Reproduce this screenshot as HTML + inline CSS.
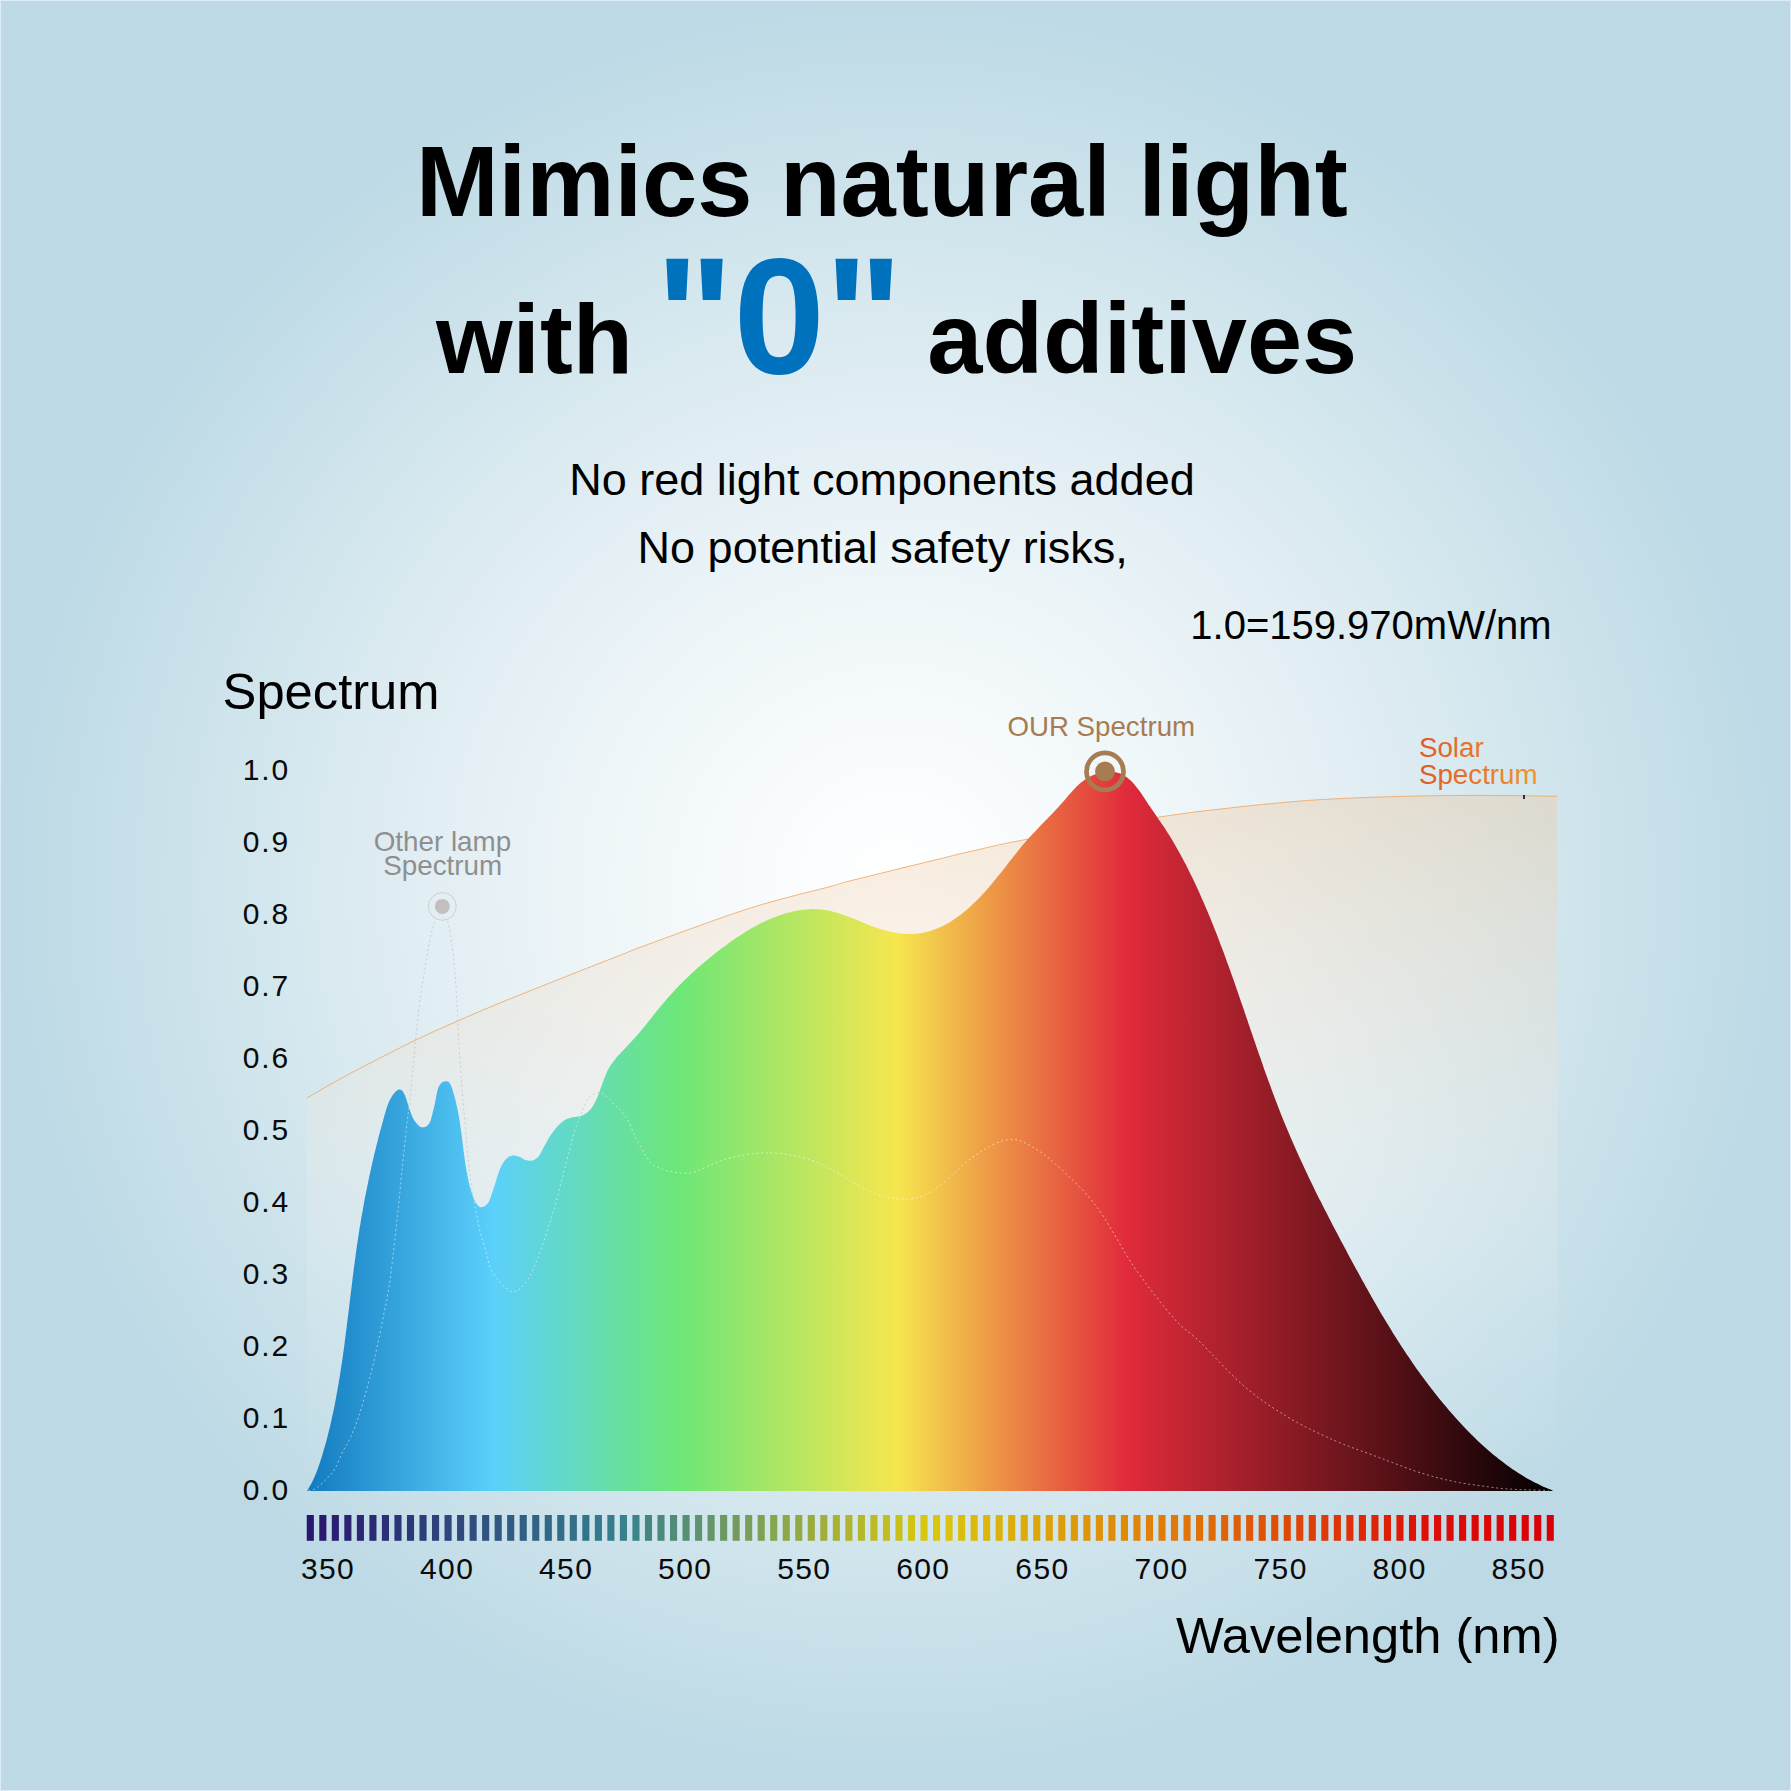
<!DOCTYPE html>
<html><head><meta charset="utf-8"><title>Spectrum</title>
<style>
html,body{margin:0;padding:0;background:#bcd9e5;}
body{width:1791px;height:1791px;overflow:hidden;font-family:"Liberation Sans",sans-serif;}
svg{display:block;}
text{font-family:"Liberation Sans",sans-serif;}
.t1{font-weight:bold;fill:#000;}
.big{font-weight:bold;font-size:164.5px;fill:#0071bc;}
.sub{font-size:45px;fill:#000;}
.ax{font-size:30px;fill:#0a0a0a;}
</style></head>
<body>
<svg width="1791" height="1791" viewBox="0 0 1791 1791">
<defs>
<radialGradient id="bg" gradientUnits="userSpaceOnUse" cx="895.5" cy="888" r="897"><stop offset="0.00" stop-color="#ffffff"/><stop offset="0.10" stop-color="#fbfdfe"/><stop offset="0.20" stop-color="#f6fafc"/><stop offset="0.30" stop-color="#f0f7f9"/><stop offset="0.40" stop-color="#eaf3f7"/><stop offset="0.50" stop-color="#e3eff4"/><stop offset="0.60" stop-color="#dcebf1"/><stop offset="0.70" stop-color="#d4e7ee"/><stop offset="0.80" stop-color="#cce2eb"/><stop offset="0.90" stop-color="#c4dee8"/><stop offset="1.00" stop-color="#bcd9e5"/></radialGradient>
<linearGradient id="sp" gradientUnits="userSpaceOnUse" x1="306.7" y1="0" x2="1553.7" y2="0">
<stop offset="0" stop-color="#127abf"/>
<stop offset="0.1493" stop-color="#5bd0fb"/>
<stop offset="0.2992" stop-color="#6de777"/>
<stop offset="0.4731" stop-color="#f6e64e"/>
<stop offset="0.6566" stop-color="#e12b3b"/>
<stop offset="1" stop-color="#000000"/>
</linearGradient>
<linearGradient id="sol" gradientUnits="userSpaceOnUse" x1="0" y1="796" x2="0" y2="1491">
<stop offset="0" stop-color="#eec8a0" stop-opacity="0.40"/>
<stop offset="0.4" stop-color="#f4e4d4" stop-opacity="0.27"/>
<stop offset="0.75" stop-color="#ffffff" stop-opacity="0.07"/>
<stop offset="1" stop-color="#ffffff" stop-opacity="0"/>
</linearGradient>
<linearGradient id="solt" gradientUnits="userSpaceOnUse" x1="1420" y1="0" x2="1536" y2="0">
<stop offset="0" stop-color="#e05a28"/>
<stop offset="1" stop-color="#f0942c"/>
</linearGradient>
<clipPath id="spc"><path d="M307.1 1491.0 C307.6 1490.1 309.2 1487.4 310.2 1485.6 C311.2 1483.8 312.1 1482.0 313.0 1480.2 C313.8 1478.4 314.6 1476.6 315.4 1474.7 C316.2 1472.9 316.9 1471.1 317.6 1469.2 C318.3 1467.4 319.0 1465.5 319.6 1463.6 C320.2 1461.8 320.8 1459.9 321.4 1458.0 C322.0 1456.1 322.6 1454.2 323.1 1452.3 C323.7 1450.4 324.2 1448.5 324.8 1446.6 C325.3 1444.7 325.8 1442.8 326.4 1440.9 C326.9 1439.0 327.4 1437.1 327.9 1435.1 C328.3 1433.2 328.8 1431.3 329.3 1429.3 C329.8 1427.4 330.2 1425.4 330.7 1423.5 C331.1 1421.5 331.6 1419.6 332.0 1417.6 C332.4 1415.7 332.8 1413.7 333.3 1411.7 C333.7 1409.8 334.1 1407.8 334.5 1405.9 C334.9 1403.9 335.2 1401.9 335.6 1399.9 C336.0 1398.0 336.4 1396.0 336.7 1394.0 C337.1 1392.0 337.4 1390.1 337.8 1388.1 C338.1 1386.1 338.5 1384.1 338.8 1382.1 C339.1 1380.1 339.5 1378.2 339.8 1376.2 C340.1 1374.2 340.4 1372.2 340.7 1370.2 C341.0 1368.2 341.3 1366.3 341.6 1364.3 C341.9 1362.3 342.2 1360.3 342.5 1358.3 C342.8 1356.3 343.1 1354.4 343.3 1352.4 C343.6 1350.4 343.9 1348.4 344.2 1346.4 C344.4 1344.4 344.7 1342.4 344.9 1340.5 C345.2 1338.5 345.5 1336.5 345.7 1334.5 C346.0 1332.5 346.2 1330.5 346.5 1328.6 C346.7 1326.6 347.0 1324.6 347.2 1322.6 C347.5 1320.6 347.7 1318.6 347.9 1316.6 C348.2 1314.7 348.4 1312.7 348.7 1310.7 C348.9 1308.7 349.2 1306.7 349.4 1304.7 C349.6 1302.8 349.9 1300.8 350.1 1298.8 C350.3 1296.8 350.6 1294.8 350.8 1292.8 C351.1 1290.9 351.3 1288.9 351.6 1286.9 C351.8 1284.9 352.0 1282.9 352.3 1281.0 C352.5 1279.0 352.8 1277.0 353.0 1275.0 C353.3 1273.0 353.5 1271.1 353.8 1269.1 C354.0 1267.1 354.3 1265.1 354.6 1263.1 C354.8 1261.2 355.1 1259.2 355.4 1257.2 C355.6 1255.2 355.9 1253.3 356.2 1251.3 C356.5 1249.3 356.7 1247.3 357.0 1245.3 C357.3 1243.4 357.6 1241.4 357.9 1239.4 C358.2 1237.5 358.5 1235.5 358.8 1233.5 C359.1 1231.5 359.4 1229.6 359.7 1227.6 C360.1 1225.6 360.4 1223.6 360.7 1221.7 C361.0 1219.7 361.4 1217.7 361.7 1215.8 C362.1 1213.8 362.4 1211.8 362.8 1209.9 C363.1 1207.9 363.5 1205.9 363.8 1204.0 C364.2 1202.0 364.6 1200.0 364.9 1198.1 C365.3 1196.1 365.7 1194.1 366.1 1192.2 C366.5 1190.2 366.9 1188.3 367.3 1186.3 C367.6 1184.3 368.1 1182.4 368.5 1180.4 C368.9 1178.5 369.3 1176.5 369.7 1174.5 C370.1 1172.6 370.6 1170.6 371.0 1168.7 C371.4 1166.7 371.9 1164.8 372.3 1162.8 C372.8 1160.8 373.2 1158.9 373.7 1156.9 C374.1 1155.0 374.6 1153.0 375.1 1151.1 C375.6 1149.1 376.0 1147.2 376.5 1145.2 C377.0 1143.3 377.5 1141.3 378.0 1139.4 C378.5 1137.4 379.0 1135.5 379.5 1133.6 C380.0 1131.6 380.5 1129.7 381.1 1127.7 C381.6 1125.8 382.1 1123.8 382.7 1121.9 C383.2 1120.0 383.8 1118.0 384.3 1116.1 C384.9 1114.1 385.4 1112.2 386.0 1110.3 C386.6 1108.3 387.2 1106.4 387.9 1104.6 C388.6 1102.7 389.4 1100.9 390.3 1099.1 C391.2 1097.4 392.3 1095.7 393.5 1094.1 C394.7 1092.6 396.3 1090.5 397.7 1089.9 C399.1 1089.2 400.6 1089.4 401.8 1090.2 C403.0 1091.1 403.9 1093.2 404.8 1095.0 C405.7 1096.8 406.3 1099.1 407.0 1101.2 C407.7 1103.3 408.3 1105.5 409.0 1107.6 C409.6 1109.7 410.3 1111.7 411.0 1113.6 C411.7 1115.5 412.5 1117.3 413.4 1119.0 C414.4 1120.6 415.4 1122.2 416.6 1123.6 C417.8 1125.0 419.2 1126.6 420.8 1127.1 C422.4 1127.6 424.6 1127.5 426.2 1126.6 C427.7 1125.7 429.1 1123.6 430.1 1121.8 C431.1 1119.9 431.5 1117.3 432.1 1115.3 C432.6 1113.2 433.0 1111.3 433.5 1109.5 C433.9 1107.6 434.4 1106.0 434.8 1104.1 C435.2 1102.2 435.5 1100.3 435.9 1098.2 C436.3 1096.1 436.6 1093.8 437.2 1091.7 C437.7 1089.6 438.3 1087.4 439.3 1085.8 C440.3 1084.1 441.7 1082.5 443.1 1081.8 C444.5 1081.1 446.5 1080.9 447.8 1081.5 C449.1 1082.1 450.1 1083.7 450.9 1085.4 C451.8 1087.0 452.4 1089.3 453.1 1091.4 C453.7 1093.5 454.3 1095.6 454.8 1097.7 C455.4 1099.8 455.9 1101.8 456.3 1103.9 C456.8 1105.9 457.2 1107.9 457.6 1109.9 C458.0 1111.9 458.4 1113.9 458.8 1115.9 C459.1 1117.9 459.4 1119.8 459.8 1121.8 C460.1 1123.8 460.4 1125.7 460.6 1127.7 C460.9 1129.6 461.2 1131.5 461.4 1133.5 C461.7 1135.4 461.9 1137.3 462.2 1139.3 C462.4 1141.2 462.6 1143.1 462.9 1145.1 C463.1 1147.0 463.4 1149.0 463.6 1150.9 C463.9 1152.9 464.1 1154.9 464.4 1156.8 C464.7 1158.8 464.9 1160.8 465.2 1162.8 C465.5 1164.8 465.8 1166.8 466.2 1168.8 C466.5 1170.8 466.9 1172.8 467.3 1174.8 C467.6 1176.8 468.0 1178.8 468.5 1180.8 C468.9 1182.8 469.4 1184.8 469.9 1186.7 C470.4 1188.7 471.0 1190.6 471.6 1192.6 C472.2 1194.5 472.8 1196.4 473.6 1198.2 C474.4 1200.1 475.2 1202.1 476.4 1203.6 C477.5 1205.1 478.8 1207.0 480.4 1207.3 C481.9 1207.6 484.1 1206.7 485.7 1205.6 C487.2 1204.4 488.5 1202.3 489.4 1200.5 C490.4 1198.6 490.9 1196.5 491.5 1194.6 C492.2 1192.6 492.8 1190.8 493.4 1188.9 C494.0 1187.0 494.7 1185.2 495.3 1183.3 C495.9 1181.5 496.4 1179.5 497.0 1177.6 C497.6 1175.7 498.2 1173.8 498.9 1171.9 C499.6 1170.0 500.3 1168.1 501.2 1166.3 C502.1 1164.5 503.1 1162.7 504.3 1161.1 C505.5 1159.6 506.9 1157.9 508.6 1156.9 C510.2 1155.9 512.2 1155.4 514.2 1155.4 C516.1 1155.4 518.2 1156.2 520.0 1156.9 C521.9 1157.7 523.6 1159.3 525.5 1160.0 C527.3 1160.6 529.4 1160.9 531.2 1160.7 C533.0 1160.4 534.9 1159.6 536.4 1158.5 C537.9 1157.3 539.1 1155.6 540.2 1153.9 C541.3 1152.2 542.2 1150.1 543.2 1148.3 C544.1 1146.5 545.1 1144.7 546.1 1142.9 C547.1 1141.2 548.0 1139.5 549.1 1137.8 C550.1 1136.1 551.2 1134.4 552.3 1132.8 C553.5 1131.2 554.7 1129.6 556.0 1128.0 C557.3 1126.5 558.6 1125.0 560.1 1123.7 C561.5 1122.4 563.1 1121.1 564.8 1120.1 C566.5 1119.2 568.3 1118.4 570.2 1117.8 C572.2 1117.3 574.4 1117.1 576.4 1116.7 C578.4 1116.3 580.5 1116.1 582.3 1115.4 C584.1 1114.8 585.7 1113.8 587.2 1112.6 C588.7 1111.5 590.0 1110.0 591.2 1108.5 C592.4 1107.0 593.4 1105.2 594.4 1103.4 C595.4 1101.6 596.3 1099.7 597.1 1097.7 C597.9 1095.8 598.7 1093.8 599.4 1091.9 C600.1 1090.0 600.8 1088.0 601.5 1086.1 C602.2 1084.2 602.8 1082.3 603.5 1080.4 C604.2 1078.6 604.9 1076.7 605.7 1074.9 C606.5 1073.1 607.3 1071.3 608.2 1069.6 C609.1 1067.9 610.1 1066.2 611.2 1064.6 C612.2 1063.0 613.4 1061.4 614.6 1059.9 C615.8 1058.3 617.1 1056.8 618.5 1055.3 C619.8 1053.8 621.2 1052.4 622.6 1050.9 C624.0 1049.4 625.4 1048.0 626.8 1046.5 C628.2 1045.1 629.6 1043.6 631.0 1042.1 C632.4 1040.6 633.8 1039.1 635.2 1037.6 C636.5 1036.1 637.8 1034.5 639.2 1033.0 C640.5 1031.4 641.8 1029.8 643.1 1028.3 C644.3 1026.7 645.6 1025.1 646.9 1023.5 C648.2 1021.9 649.4 1020.3 650.7 1018.8 C651.9 1017.2 653.2 1015.6 654.4 1014.0 C655.7 1012.4 656.9 1010.9 658.2 1009.3 C659.4 1007.8 660.7 1006.2 662.0 1004.7 C663.2 1003.2 664.5 1001.7 665.8 1000.2 C667.1 998.7 668.4 997.2 669.7 995.8 C671.0 994.3 672.3 992.9 673.6 991.4 C674.9 990.0 676.2 988.6 677.6 987.2 C678.9 985.8 680.3 984.4 681.7 983.0 C683.0 981.7 684.4 980.3 685.8 979.0 C687.2 977.6 688.6 976.3 690.0 974.9 C691.4 973.6 692.9 972.3 694.3 971.0 C695.7 969.7 697.2 968.4 698.7 967.1 C700.1 965.8 701.6 964.5 703.1 963.2 C704.6 961.9 706.2 960.7 707.7 959.4 C709.2 958.1 710.8 956.9 712.4 955.6 C713.9 954.3 715.5 953.1 717.1 951.8 C718.7 950.6 720.3 949.4 722.0 948.1 C723.6 946.9 725.3 945.7 727.0 944.4 C728.6 943.2 730.3 942.0 732.0 940.8 C733.7 939.6 735.4 938.5 737.2 937.3 C738.9 936.2 740.6 935.0 742.4 933.9 C744.2 932.8 745.9 931.7 747.7 930.6 C749.5 929.6 751.3 928.5 753.1 927.5 C754.9 926.5 756.7 925.5 758.5 924.6 C760.3 923.6 762.2 922.7 764.0 921.8 C765.9 920.9 767.7 920.1 769.6 919.3 C771.4 918.5 773.3 917.7 775.1 917.0 C777.0 916.2 778.9 915.5 780.8 914.9 C782.7 914.3 784.5 913.7 786.4 913.1 C788.3 912.6 790.2 912.1 792.1 911.7 C794.0 911.2 795.9 910.8 797.8 910.5 C799.7 910.2 801.6 909.9 803.5 909.7 C805.5 909.5 807.4 909.3 809.3 909.2 C811.2 909.1 813.1 909.1 815.0 909.2 C816.9 909.2 818.8 909.3 820.7 909.5 C822.6 909.7 824.5 909.9 826.4 910.2 C828.3 910.5 830.2 911.0 832.1 911.4 C834.0 911.9 835.9 912.4 837.8 913.0 C839.7 913.6 841.6 914.2 843.5 914.9 C845.4 915.5 847.3 916.3 849.2 917.0 C851.1 917.7 853.0 918.5 854.9 919.3 C856.8 920.0 858.7 920.8 860.6 921.6 C862.5 922.4 864.4 923.2 866.3 923.9 C868.2 924.7 870.1 925.4 872.0 926.2 C873.9 926.9 875.9 927.6 877.8 928.2 C879.7 928.9 881.7 929.5 883.6 930.1 C885.6 930.6 887.5 931.1 889.5 931.6 C891.4 932.0 893.4 932.4 895.4 932.7 C897.3 933.1 899.3 933.3 901.3 933.5 C903.2 933.7 905.2 933.8 907.1 933.9 C909.1 933.9 911.1 933.9 913.0 933.9 C915.0 933.8 916.9 933.6 918.8 933.4 C920.7 933.1 922.7 932.8 924.6 932.4 C926.4 932.0 928.3 931.6 930.2 931.0 C932.1 930.5 933.9 929.8 935.7 929.1 C937.6 928.4 939.4 927.6 941.2 926.8 C943.0 925.9 944.7 925.0 946.5 924.0 C948.2 923.1 949.9 922.0 951.7 920.9 C953.4 919.9 955.0 918.7 956.7 917.5 C958.4 916.4 960.0 915.1 961.6 913.9 C963.2 912.6 964.8 911.3 966.4 910.0 C967.9 908.7 969.4 907.3 970.9 905.9 C972.4 904.5 973.9 903.1 975.4 901.7 C976.8 900.3 978.2 898.8 979.6 897.4 C981.0 895.9 982.4 894.4 983.8 893.0 C985.1 891.5 986.5 890.0 987.8 888.5 C989.1 886.9 990.4 885.4 991.7 883.9 C993.0 882.4 994.3 880.8 995.5 879.3 C996.8 877.7 998.0 876.2 999.3 874.6 C1000.5 873.1 1001.8 871.5 1003.0 869.9 C1004.2 868.4 1005.5 866.8 1006.7 865.2 C1007.9 863.7 1009.1 862.1 1010.4 860.6 C1011.6 859.0 1012.8 857.4 1014.0 855.9 C1015.3 854.3 1016.5 852.8 1017.8 851.2 C1019.0 849.7 1020.3 848.2 1021.5 846.6 C1022.8 845.1 1024.1 843.6 1025.4 842.1 C1026.6 840.6 1027.9 839.1 1029.3 837.6 C1030.6 836.2 1031.9 834.7 1033.3 833.3 C1034.6 831.8 1036.0 830.4 1037.4 828.9 C1038.7 827.5 1040.1 826.1 1041.5 824.6 C1042.9 823.2 1044.3 821.8 1045.7 820.3 C1047.1 818.9 1048.5 817.5 1049.9 816.0 C1051.3 814.6 1052.6 813.2 1054.0 811.7 C1055.4 810.2 1056.8 808.8 1058.2 807.3 C1059.5 805.8 1060.9 804.3 1062.2 802.8 C1063.6 801.3 1064.9 799.7 1066.2 798.2 C1067.5 796.6 1068.9 795.1 1070.2 793.5 C1071.5 792.0 1072.9 790.5 1074.3 789.0 C1075.6 787.6 1077.0 786.1 1078.5 784.8 C1080.0 783.4 1081.5 782.1 1083.1 780.9 C1084.6 779.7 1086.3 778.6 1088.0 777.5 C1089.7 776.5 1091.5 775.6 1093.4 774.9 C1095.2 774.1 1097.2 773.4 1099.1 772.9 C1101.1 772.4 1103.1 772.1 1105.1 771.9 C1107.0 771.6 1109.1 771.6 1111.0 771.7 C1113.0 771.8 1114.9 772.1 1116.8 772.5 C1118.6 773.0 1120.5 773.6 1122.2 774.5 C1123.9 775.3 1125.6 776.4 1127.1 777.5 C1128.7 778.7 1130.2 780.1 1131.7 781.5 C1133.1 782.9 1134.5 784.5 1135.8 786.2 C1137.2 787.8 1138.4 789.5 1139.7 791.3 C1140.9 793.0 1142.1 794.8 1143.3 796.6 C1144.5 798.4 1145.7 800.2 1146.9 801.9 C1148.0 803.7 1149.2 805.4 1150.3 807.0 C1151.4 808.7 1152.5 810.3 1153.7 811.9 C1154.8 813.6 1155.9 815.1 1157.0 816.7 C1158.0 818.3 1159.1 819.9 1160.2 821.4 C1161.3 823.0 1162.3 824.6 1163.4 826.1 C1164.4 827.7 1165.5 829.3 1166.5 830.9 C1167.6 832.6 1168.6 834.2 1169.6 835.8 C1170.6 837.5 1171.6 839.1 1172.6 840.8 C1173.6 842.5 1174.6 844.2 1175.6 845.9 C1176.6 847.6 1177.5 849.3 1178.5 851.0 C1179.4 852.7 1180.4 854.4 1181.3 856.2 C1182.3 857.9 1183.2 859.7 1184.1 861.5 C1185.1 863.2 1186.0 865.0 1186.9 866.8 C1187.8 868.6 1188.7 870.4 1189.6 872.2 C1190.5 874.0 1191.4 875.8 1192.3 877.6 C1193.1 879.4 1194.0 881.3 1194.9 883.1 C1195.7 884.9 1196.6 886.8 1197.4 888.6 C1198.3 890.5 1199.1 892.3 1200.0 894.2 C1200.8 896.0 1201.6 897.9 1202.4 899.8 C1203.3 901.6 1204.1 903.5 1204.9 905.4 C1205.7 907.2 1206.5 909.1 1207.3 911.0 C1208.0 912.9 1208.8 914.8 1209.6 916.6 C1210.4 918.5 1211.1 920.4 1211.9 922.3 C1212.7 924.2 1213.4 926.1 1214.2 927.9 C1214.9 929.8 1215.7 931.7 1216.4 933.6 C1217.1 935.5 1217.9 937.4 1218.6 939.2 C1219.3 941.1 1220.0 943.0 1220.7 944.9 C1221.5 946.8 1222.2 948.7 1222.9 950.6 C1223.6 952.4 1224.3 954.3 1225.0 956.2 C1225.7 958.1 1226.3 960.0 1227.0 961.9 C1227.7 963.7 1228.4 965.6 1229.1 967.5 C1229.8 969.4 1230.4 971.3 1231.1 973.2 C1231.8 975.0 1232.4 976.9 1233.1 978.8 C1233.8 980.7 1234.4 982.6 1235.1 984.5 C1235.7 986.3 1236.4 988.2 1237.0 990.1 C1237.7 992.0 1238.3 993.9 1239.0 995.7 C1239.6 997.6 1240.3 999.5 1240.9 1001.4 C1241.6 1003.3 1242.2 1005.1 1242.9 1007.0 C1243.5 1008.9 1244.2 1010.8 1244.8 1012.7 C1245.4 1014.5 1246.1 1016.4 1246.7 1018.3 C1247.4 1020.2 1248.0 1022.1 1248.6 1023.9 C1249.3 1025.8 1249.9 1027.7 1250.5 1029.6 C1251.2 1031.4 1251.8 1033.3 1252.5 1035.2 C1253.1 1037.1 1253.7 1038.9 1254.4 1040.8 C1255.0 1042.7 1255.7 1044.5 1256.3 1046.4 C1257.0 1048.3 1257.6 1050.2 1258.2 1052.0 C1258.9 1053.9 1259.5 1055.8 1260.2 1057.6 C1260.8 1059.5 1261.5 1061.4 1262.2 1063.3 C1262.8 1065.1 1263.5 1067.0 1264.1 1068.9 C1264.8 1070.7 1265.5 1072.6 1266.1 1074.4 C1266.8 1076.3 1267.5 1078.2 1268.1 1080.0 C1268.8 1081.9 1269.5 1083.8 1270.2 1085.6 C1270.8 1087.5 1271.5 1089.3 1272.2 1091.2 C1272.9 1093.1 1273.6 1094.9 1274.3 1096.8 C1275.0 1098.6 1275.7 1100.5 1276.4 1102.3 C1277.1 1104.2 1277.8 1106.1 1278.6 1107.9 C1279.3 1109.8 1280.0 1111.6 1280.7 1113.5 C1281.5 1115.3 1282.2 1117.2 1282.9 1119.0 C1283.7 1120.9 1284.4 1122.7 1285.2 1124.5 C1286.0 1126.4 1286.7 1128.2 1287.5 1130.1 C1288.3 1131.9 1289.0 1133.8 1289.8 1135.6 C1290.6 1137.5 1291.4 1139.3 1292.2 1141.1 C1293.0 1143.0 1293.8 1144.8 1294.6 1146.6 C1295.4 1148.5 1296.2 1150.3 1297.0 1152.1 C1297.9 1154.0 1298.7 1155.8 1299.5 1157.6 C1300.4 1159.5 1301.2 1161.3 1302.1 1163.1 C1302.9 1165.0 1303.8 1166.8 1304.6 1168.6 C1305.5 1170.4 1306.3 1172.3 1307.2 1174.1 C1308.1 1175.9 1308.9 1177.7 1309.8 1179.5 C1310.7 1181.4 1311.6 1183.2 1312.5 1185.0 C1313.4 1186.8 1314.2 1188.6 1315.1 1190.4 C1316.0 1192.2 1316.9 1194.1 1317.8 1195.9 C1318.7 1197.7 1319.6 1199.5 1320.6 1201.3 C1321.5 1203.1 1322.4 1204.9 1323.3 1206.7 C1324.2 1208.5 1325.1 1210.3 1326.1 1212.1 C1327.0 1213.9 1327.9 1215.7 1328.8 1217.5 C1329.8 1219.3 1330.7 1221.1 1331.6 1222.9 C1332.5 1224.7 1333.5 1226.5 1334.4 1228.2 C1335.4 1230.0 1336.3 1231.8 1337.2 1233.6 C1338.2 1235.4 1339.1 1237.2 1340.0 1238.9 C1341.0 1240.7 1341.9 1242.5 1342.9 1244.3 C1343.8 1246.1 1344.8 1247.8 1345.7 1249.6 C1346.6 1251.4 1347.6 1253.2 1348.5 1254.9 C1349.5 1256.7 1350.4 1258.5 1351.4 1260.2 C1352.3 1262.0 1353.3 1263.7 1354.2 1265.5 C1355.2 1267.3 1356.1 1269.0 1357.1 1270.8 C1358.0 1272.5 1359.0 1274.3 1360.0 1276.0 C1360.9 1277.8 1361.9 1279.5 1362.8 1281.3 C1363.8 1283.0 1364.8 1284.8 1365.7 1286.5 C1366.7 1288.2 1367.7 1290.0 1368.7 1291.7 C1369.6 1293.4 1370.6 1295.2 1371.6 1296.9 C1372.6 1298.6 1373.6 1300.3 1374.5 1302.1 C1375.5 1303.8 1376.5 1305.5 1377.5 1307.2 C1378.5 1308.9 1379.5 1310.6 1380.5 1312.4 C1381.5 1314.1 1382.5 1315.8 1383.6 1317.5 C1384.6 1319.2 1385.6 1320.9 1386.6 1322.6 C1387.6 1324.3 1388.7 1325.9 1389.7 1327.6 C1390.7 1329.3 1391.8 1331.0 1392.8 1332.7 C1393.9 1334.4 1394.9 1336.0 1396.0 1337.7 C1397.0 1339.4 1398.1 1341.1 1399.2 1342.7 C1400.2 1344.4 1401.3 1346.0 1402.4 1347.7 C1403.5 1349.4 1404.6 1351.0 1405.7 1352.7 C1406.8 1354.3 1407.9 1355.9 1409.0 1357.6 C1410.1 1359.2 1411.2 1360.9 1412.3 1362.5 C1413.5 1364.1 1414.6 1365.7 1415.7 1367.4 C1416.9 1369.0 1418.0 1370.6 1419.2 1372.2 C1420.3 1373.8 1421.5 1375.4 1422.7 1377.0 C1423.9 1378.6 1425.0 1380.2 1426.2 1381.8 C1427.4 1383.4 1428.6 1385.0 1429.8 1386.6 C1431.1 1388.2 1432.3 1389.8 1433.5 1391.3 C1434.7 1392.9 1436.0 1394.5 1437.2 1396.0 C1438.5 1397.6 1439.7 1399.2 1441.0 1400.7 C1442.3 1402.3 1443.5 1403.8 1444.8 1405.3 C1446.1 1406.9 1447.4 1408.4 1448.7 1410.0 C1450.0 1411.5 1451.4 1413.0 1452.7 1414.5 C1454.0 1416.0 1455.4 1417.6 1456.7 1419.1 C1458.1 1420.6 1459.4 1422.1 1460.8 1423.5 C1462.2 1425.0 1463.6 1426.5 1465.0 1428.0 C1466.4 1429.4 1467.8 1430.9 1469.2 1432.3 C1470.6 1433.8 1472.1 1435.2 1473.5 1436.6 C1475.0 1438.1 1476.4 1439.5 1477.9 1440.9 C1479.4 1442.3 1480.8 1443.6 1482.3 1445.0 C1483.8 1446.4 1485.3 1447.7 1486.8 1449.0 C1488.3 1450.4 1489.9 1451.7 1491.4 1453.0 C1493.0 1454.3 1494.5 1455.6 1496.1 1456.8 C1497.6 1458.1 1499.2 1459.4 1500.8 1460.6 C1502.4 1461.8 1504.0 1463.0 1505.6 1464.2 C1507.2 1465.4 1508.8 1466.6 1510.5 1467.7 C1512.1 1468.9 1513.7 1470.0 1515.4 1471.1 C1517.1 1472.2 1518.7 1473.3 1520.4 1474.3 C1522.1 1475.4 1523.8 1476.4 1525.5 1477.4 C1527.2 1478.4 1528.9 1479.4 1530.7 1480.3 C1532.4 1481.3 1534.2 1482.2 1535.9 1483.1 C1537.7 1484.0 1539.5 1484.9 1541.3 1485.7 C1543.0 1486.5 1544.8 1487.4 1546.7 1488.1 C1548.5 1488.9 1551.0 1489.9 1552.1 1490.4 C1553.3 1490.9 1553.4 1490.9 1553.7 1491.0 Z"/></clipPath>
</defs>
<rect width="1791" height="1791" fill="url(#bg)"/>
<rect x="0.5" y="0.5" width="1790" height="1790" fill="none" stroke="#dcedf7" stroke-width="1"/>
<!-- solar -->
<path d="M307.0 1098.0 C312.5 1094.8 328.0 1085.6 340.2 1078.9 C352.4 1072.2 367.0 1064.7 380.4 1057.8 C393.8 1050.9 407.2 1044.1 420.6 1037.7 C434.0 1031.3 447.4 1025.5 460.8 1019.6 C474.2 1013.7 487.6 1008.0 501.0 1002.5 C514.4 997.0 527.8 991.8 541.2 986.4 C554.6 981.0 568.0 975.7 581.4 970.4 C594.8 965.1 610.2 959.2 621.6 954.7 C633.0 950.2 628.5 951.5 650.0 943.7 C671.5 935.9 720.5 917.5 750.5 908.0 C780.5 898.5 813.4 891.1 830.0 886.6 C846.6 882.1 831.7 885.5 850.0 880.9 C868.3 876.3 918.9 863.9 940.0 858.8 C961.1 853.6 961.9 853.3 976.6 850.0 C991.3 846.7 997.7 844.6 1028.2 839.1 C1058.7 833.6 1126.0 822.2 1159.8 817.0 C1193.6 811.8 1209.6 810.3 1231.3 807.8 C1253.0 805.3 1273.2 803.4 1290.0 801.9 C1306.8 800.4 1316.8 799.8 1331.8 799.0 C1346.8 798.2 1363.6 797.5 1380.0 797.0 C1396.4 796.5 1413.3 796.1 1430.0 795.8 C1446.7 795.5 1465.0 795.4 1480.0 795.4 C1495.0 795.4 1507.2 795.6 1520.0 795.7 C1532.8 795.9 1550.8 796.2 1557.0 796.3 L1557 1491 L307 1491 Z" fill="url(#sol)"/>
<path d="M307.0 1098.0 C312.5 1094.8 328.0 1085.6 340.2 1078.9 C352.4 1072.2 367.0 1064.7 380.4 1057.8 C393.8 1050.9 407.2 1044.1 420.6 1037.7 C434.0 1031.3 447.4 1025.5 460.8 1019.6 C474.2 1013.7 487.6 1008.0 501.0 1002.5 C514.4 997.0 527.8 991.8 541.2 986.4 C554.6 981.0 568.0 975.7 581.4 970.4 C594.8 965.1 610.2 959.2 621.6 954.7 C633.0 950.2 628.5 951.5 650.0 943.7 C671.5 935.9 720.5 917.5 750.5 908.0 C780.5 898.5 813.4 891.1 830.0 886.6 C846.6 882.1 831.7 885.5 850.0 880.9 C868.3 876.3 918.9 863.9 940.0 858.8 C961.1 853.6 961.9 853.3 976.6 850.0 C991.3 846.7 997.7 844.6 1028.2 839.1 C1058.7 833.6 1126.0 822.2 1159.8 817.0 C1193.6 811.8 1209.6 810.3 1231.3 807.8 C1253.0 805.3 1273.2 803.4 1290.0 801.9 C1306.8 800.4 1316.8 799.8 1331.8 799.0 C1346.8 798.2 1363.6 797.5 1380.0 797.0 C1396.4 796.5 1413.3 796.1 1430.0 795.8 C1446.7 795.5 1465.0 795.4 1480.0 795.4 C1495.0 795.4 1507.2 795.6 1520.0 795.7 C1532.8 795.9 1550.8 796.2 1557.0 796.3" fill="none" stroke="#eda55c" stroke-width="0.8"/>
<rect x="1523" y="795" width="2" height="4" fill="#2a2a5a"/>
<!-- other lamp (outside part, gray) -->
<path d="M308.5 1490.5 C309.8 1490.1 313.1 1490.3 316.2 1488.2 C319.3 1486.1 324.2 1481.4 327.4 1478.1 C330.6 1474.8 332.6 1472.6 335.2 1468.1 C337.8 1463.6 340.4 1456.5 343.0 1451.3 C345.6 1446.1 348.2 1442.6 350.8 1436.8 C353.4 1431.0 356.1 1424.5 358.7 1416.7 C361.3 1408.9 364.1 1398.7 366.5 1389.9 C368.9 1381.2 371.0 1373.5 373.2 1364.2 C375.4 1354.9 378.0 1342.8 379.9 1334.1 C381.8 1325.4 383.0 1318.3 384.3 1311.8 C385.6 1305.3 386.5 1302.0 387.7 1295.0 C388.9 1288.0 389.8 1283.3 391.4 1270.0 C393.0 1256.7 395.7 1231.8 397.5 1215.2 C399.3 1198.6 400.5 1185.0 402.0 1170.5 C403.5 1156.0 405.4 1138.3 406.5 1128.1 C407.6 1117.9 408.1 1114.1 408.7 1109.1 C409.3 1104.1 409.4 1106.0 410.2 1098.0 C411.0 1090.0 412.5 1072.0 413.6 1060.8 C414.7 1049.6 415.4 1041.4 416.6 1030.7 C417.8 1020.0 419.1 1007.6 420.6 996.5 C422.1 985.4 423.9 974.3 425.6 964.3 C427.3 954.2 429.2 943.2 430.7 936.2 C432.2 929.2 434.0 924.5 434.7 922.1 M447.7 921.1 C448.4 925.0 450.6 936.0 451.8 944.2 C453.0 952.4 454.0 961.0 454.8 970.4 C455.6 979.8 456.1 988.8 456.8 1000.5 C457.5 1012.2 458.1 1029.0 458.8 1040.7 C459.5 1052.4 460.1 1061.4 460.8 1070.9 C461.5 1080.5 461.8 1086.0 462.8 1098.0 C463.8 1110.0 465.6 1129.6 466.8 1142.6 C468.0 1155.6 469.0 1166.8 470.1 1176.1 C471.2 1185.4 472.4 1191.9 473.5 1198.4 C474.6 1204.9 475.7 1209.6 476.8 1215.2 C477.9 1220.8 478.7 1226.0 480.2 1231.9 C481.7 1237.9 483.9 1244.6 485.8 1250.9 C487.7 1257.2 488.1 1264.0 491.3 1270.0 C494.5 1276.0 500.7 1283.6 504.9 1287.1 C509.1 1290.6 512.0 1293.6 516.6 1291.0 C521.2 1288.4 526.3 1283.8 532.2 1271.4 C538.1 1259.0 545.9 1235.6 551.8 1216.7 C557.7 1197.8 563.5 1172.5 567.4 1158.1 C571.3 1143.6 572.9 1137.0 575.0 1130.0 C577.1 1123.0 578.3 1121.0 580.3 1116.1 C582.3 1111.2 585.0 1104.0 587.0 1100.5 C589.0 1097.0 590.7 1096.2 592.6 1094.9 C594.5 1093.6 596.5 1092.5 598.5 1092.5 C600.5 1092.5 602.2 1092.8 604.9 1094.9 C607.6 1097.0 611.4 1101.3 614.9 1105.0 C618.4 1108.7 622.6 1111.7 626.1 1117.3 C629.6 1122.9 632.8 1132.0 636.1 1138.5 C639.5 1145.0 643.2 1151.8 646.2 1156.3 C649.2 1160.8 650.0 1162.8 654.0 1165.3 C658.0 1167.8 663.9 1170.2 670.0 1171.5 C676.1 1172.8 683.9 1173.9 690.5 1172.9 C697.1 1171.9 703.1 1167.8 709.8 1165.3 C716.5 1162.8 721.4 1159.9 730.7 1157.8 C740.1 1155.7 753.8 1152.8 765.9 1152.8 C778.0 1152.8 792.7 1155.1 803.6 1157.8 C814.5 1160.5 822.4 1164.7 831.2 1169.1 C840.0 1173.5 849.2 1180.2 856.3 1184.2 C863.4 1188.2 868.0 1190.7 873.9 1193.0 C879.8 1195.3 884.4 1197.2 891.5 1198.0 C898.6 1198.8 908.2 1200.3 916.6 1198.0 C925.0 1195.7 933.4 1190.3 941.8 1184.2 C950.2 1178.1 958.5 1168.1 966.9 1161.6 C975.3 1155.1 984.5 1148.9 992.0 1145.2 C999.5 1141.5 1005.7 1139.4 1012.1 1139.5 C1018.5 1139.6 1023.1 1141.6 1030.3 1145.7 C1037.5 1149.8 1044.6 1154.1 1055.4 1164.0 C1066.2 1173.9 1082.2 1187.8 1095.4 1205.0 C1108.6 1222.2 1121.5 1248.7 1134.5 1267.5 C1147.5 1286.3 1162.7 1305.6 1173.6 1318.0 C1184.5 1330.4 1188.2 1330.5 1200.0 1342.0 C1211.8 1353.5 1229.8 1374.0 1244.7 1386.7 C1259.6 1399.4 1274.4 1409.1 1289.3 1418.0 C1304.2 1426.9 1320.5 1434.3 1334.0 1440.3 C1347.5 1446.3 1360.3 1450.4 1370.0 1454.1 C1379.7 1457.8 1384.8 1459.7 1392.3 1462.5 C1399.8 1465.3 1407.2 1468.4 1414.7 1470.9 C1422.2 1473.4 1429.6 1475.6 1437.0 1477.6 C1444.4 1479.5 1451.8 1481.2 1459.3 1482.6 C1466.8 1484.0 1474.2 1484.9 1481.7 1485.9 C1489.2 1486.9 1496.6 1488.1 1504.0 1488.7 C1511.4 1489.3 1518.8 1489.5 1526.3 1489.8 C1533.8 1490.1 1545.0 1490.3 1548.7 1490.4" fill="none" stroke="#b4b4b4" stroke-opacity="0.7" stroke-width="0.8" stroke-dasharray="2 2.7"/>
<!-- spectrum -->
<path d="M307.1 1491.0 C307.6 1490.1 309.2 1487.4 310.2 1485.6 C311.2 1483.8 312.1 1482.0 313.0 1480.2 C313.8 1478.4 314.6 1476.6 315.4 1474.7 C316.2 1472.9 316.9 1471.1 317.6 1469.2 C318.3 1467.4 319.0 1465.5 319.6 1463.6 C320.2 1461.8 320.8 1459.9 321.4 1458.0 C322.0 1456.1 322.6 1454.2 323.1 1452.3 C323.7 1450.4 324.2 1448.5 324.8 1446.6 C325.3 1444.7 325.8 1442.8 326.4 1440.9 C326.9 1439.0 327.4 1437.1 327.9 1435.1 C328.3 1433.2 328.8 1431.3 329.3 1429.3 C329.8 1427.4 330.2 1425.4 330.7 1423.5 C331.1 1421.5 331.6 1419.6 332.0 1417.6 C332.4 1415.7 332.8 1413.7 333.3 1411.7 C333.7 1409.8 334.1 1407.8 334.5 1405.9 C334.9 1403.9 335.2 1401.9 335.6 1399.9 C336.0 1398.0 336.4 1396.0 336.7 1394.0 C337.1 1392.0 337.4 1390.1 337.8 1388.1 C338.1 1386.1 338.5 1384.1 338.8 1382.1 C339.1 1380.1 339.5 1378.2 339.8 1376.2 C340.1 1374.2 340.4 1372.2 340.7 1370.2 C341.0 1368.2 341.3 1366.3 341.6 1364.3 C341.9 1362.3 342.2 1360.3 342.5 1358.3 C342.8 1356.3 343.1 1354.4 343.3 1352.4 C343.6 1350.4 343.9 1348.4 344.2 1346.4 C344.4 1344.4 344.7 1342.4 344.9 1340.5 C345.2 1338.5 345.5 1336.5 345.7 1334.5 C346.0 1332.5 346.2 1330.5 346.5 1328.6 C346.7 1326.6 347.0 1324.6 347.2 1322.6 C347.5 1320.6 347.7 1318.6 347.9 1316.6 C348.2 1314.7 348.4 1312.7 348.7 1310.7 C348.9 1308.7 349.2 1306.7 349.4 1304.7 C349.6 1302.8 349.9 1300.8 350.1 1298.8 C350.3 1296.8 350.6 1294.8 350.8 1292.8 C351.1 1290.9 351.3 1288.9 351.6 1286.9 C351.8 1284.9 352.0 1282.9 352.3 1281.0 C352.5 1279.0 352.8 1277.0 353.0 1275.0 C353.3 1273.0 353.5 1271.1 353.8 1269.1 C354.0 1267.1 354.3 1265.1 354.6 1263.1 C354.8 1261.2 355.1 1259.2 355.4 1257.2 C355.6 1255.2 355.9 1253.3 356.2 1251.3 C356.5 1249.3 356.7 1247.3 357.0 1245.3 C357.3 1243.4 357.6 1241.4 357.9 1239.4 C358.2 1237.5 358.5 1235.5 358.8 1233.5 C359.1 1231.5 359.4 1229.6 359.7 1227.6 C360.1 1225.6 360.4 1223.6 360.7 1221.7 C361.0 1219.7 361.4 1217.7 361.7 1215.8 C362.1 1213.8 362.4 1211.8 362.8 1209.9 C363.1 1207.9 363.5 1205.9 363.8 1204.0 C364.2 1202.0 364.6 1200.0 364.9 1198.1 C365.3 1196.1 365.7 1194.1 366.1 1192.2 C366.5 1190.2 366.9 1188.3 367.3 1186.3 C367.6 1184.3 368.1 1182.4 368.5 1180.4 C368.9 1178.5 369.3 1176.5 369.7 1174.5 C370.1 1172.6 370.6 1170.6 371.0 1168.7 C371.4 1166.7 371.9 1164.8 372.3 1162.8 C372.8 1160.8 373.2 1158.9 373.7 1156.9 C374.1 1155.0 374.6 1153.0 375.1 1151.1 C375.6 1149.1 376.0 1147.2 376.5 1145.2 C377.0 1143.3 377.5 1141.3 378.0 1139.4 C378.5 1137.4 379.0 1135.5 379.5 1133.6 C380.0 1131.6 380.5 1129.7 381.1 1127.7 C381.6 1125.8 382.1 1123.8 382.7 1121.9 C383.2 1120.0 383.8 1118.0 384.3 1116.1 C384.9 1114.1 385.4 1112.2 386.0 1110.3 C386.6 1108.3 387.2 1106.4 387.9 1104.6 C388.6 1102.7 389.4 1100.9 390.3 1099.1 C391.2 1097.4 392.3 1095.7 393.5 1094.1 C394.7 1092.6 396.3 1090.5 397.7 1089.9 C399.1 1089.2 400.6 1089.4 401.8 1090.2 C403.0 1091.1 403.9 1093.2 404.8 1095.0 C405.7 1096.8 406.3 1099.1 407.0 1101.2 C407.7 1103.3 408.3 1105.5 409.0 1107.6 C409.6 1109.7 410.3 1111.7 411.0 1113.6 C411.7 1115.5 412.5 1117.3 413.4 1119.0 C414.4 1120.6 415.4 1122.2 416.6 1123.6 C417.8 1125.0 419.2 1126.6 420.8 1127.1 C422.4 1127.6 424.6 1127.5 426.2 1126.6 C427.7 1125.7 429.1 1123.6 430.1 1121.8 C431.1 1119.9 431.5 1117.3 432.1 1115.3 C432.6 1113.2 433.0 1111.3 433.5 1109.5 C433.9 1107.6 434.4 1106.0 434.8 1104.1 C435.2 1102.2 435.5 1100.3 435.9 1098.2 C436.3 1096.1 436.6 1093.8 437.2 1091.7 C437.7 1089.6 438.3 1087.4 439.3 1085.8 C440.3 1084.1 441.7 1082.5 443.1 1081.8 C444.5 1081.1 446.5 1080.9 447.8 1081.5 C449.1 1082.1 450.1 1083.7 450.9 1085.4 C451.8 1087.0 452.4 1089.3 453.1 1091.4 C453.7 1093.5 454.3 1095.6 454.8 1097.7 C455.4 1099.8 455.9 1101.8 456.3 1103.9 C456.8 1105.9 457.2 1107.9 457.6 1109.9 C458.0 1111.9 458.4 1113.9 458.8 1115.9 C459.1 1117.9 459.4 1119.8 459.8 1121.8 C460.1 1123.8 460.4 1125.7 460.6 1127.7 C460.9 1129.6 461.2 1131.5 461.4 1133.5 C461.7 1135.4 461.9 1137.3 462.2 1139.3 C462.4 1141.2 462.6 1143.1 462.9 1145.1 C463.1 1147.0 463.4 1149.0 463.6 1150.9 C463.9 1152.9 464.1 1154.9 464.4 1156.8 C464.7 1158.8 464.9 1160.8 465.2 1162.8 C465.5 1164.8 465.8 1166.8 466.2 1168.8 C466.5 1170.8 466.9 1172.8 467.3 1174.8 C467.6 1176.8 468.0 1178.8 468.5 1180.8 C468.9 1182.8 469.4 1184.8 469.9 1186.7 C470.4 1188.7 471.0 1190.6 471.6 1192.6 C472.2 1194.5 472.8 1196.4 473.6 1198.2 C474.4 1200.1 475.2 1202.1 476.4 1203.6 C477.5 1205.1 478.8 1207.0 480.4 1207.3 C481.9 1207.6 484.1 1206.7 485.7 1205.6 C487.2 1204.4 488.5 1202.3 489.4 1200.5 C490.4 1198.6 490.9 1196.5 491.5 1194.6 C492.2 1192.6 492.8 1190.8 493.4 1188.9 C494.0 1187.0 494.7 1185.2 495.3 1183.3 C495.9 1181.5 496.4 1179.5 497.0 1177.6 C497.6 1175.7 498.2 1173.8 498.9 1171.9 C499.6 1170.0 500.3 1168.1 501.2 1166.3 C502.1 1164.5 503.1 1162.7 504.3 1161.1 C505.5 1159.6 506.9 1157.9 508.6 1156.9 C510.2 1155.9 512.2 1155.4 514.2 1155.4 C516.1 1155.4 518.2 1156.2 520.0 1156.9 C521.9 1157.7 523.6 1159.3 525.5 1160.0 C527.3 1160.6 529.4 1160.9 531.2 1160.7 C533.0 1160.4 534.9 1159.6 536.4 1158.5 C537.9 1157.3 539.1 1155.6 540.2 1153.9 C541.3 1152.2 542.2 1150.1 543.2 1148.3 C544.1 1146.5 545.1 1144.7 546.1 1142.9 C547.1 1141.2 548.0 1139.5 549.1 1137.8 C550.1 1136.1 551.2 1134.4 552.3 1132.8 C553.5 1131.2 554.7 1129.6 556.0 1128.0 C557.3 1126.5 558.6 1125.0 560.1 1123.7 C561.5 1122.4 563.1 1121.1 564.8 1120.1 C566.5 1119.2 568.3 1118.4 570.2 1117.8 C572.2 1117.3 574.4 1117.1 576.4 1116.7 C578.4 1116.3 580.5 1116.1 582.3 1115.4 C584.1 1114.8 585.7 1113.8 587.2 1112.6 C588.7 1111.5 590.0 1110.0 591.2 1108.5 C592.4 1107.0 593.4 1105.2 594.4 1103.4 C595.4 1101.6 596.3 1099.7 597.1 1097.7 C597.9 1095.8 598.7 1093.8 599.4 1091.9 C600.1 1090.0 600.8 1088.0 601.5 1086.1 C602.2 1084.2 602.8 1082.3 603.5 1080.4 C604.2 1078.6 604.9 1076.7 605.7 1074.9 C606.5 1073.1 607.3 1071.3 608.2 1069.6 C609.1 1067.9 610.1 1066.2 611.2 1064.6 C612.2 1063.0 613.4 1061.4 614.6 1059.9 C615.8 1058.3 617.1 1056.8 618.5 1055.3 C619.8 1053.8 621.2 1052.4 622.6 1050.9 C624.0 1049.4 625.4 1048.0 626.8 1046.5 C628.2 1045.1 629.6 1043.6 631.0 1042.1 C632.4 1040.6 633.8 1039.1 635.2 1037.6 C636.5 1036.1 637.8 1034.5 639.2 1033.0 C640.5 1031.4 641.8 1029.8 643.1 1028.3 C644.3 1026.7 645.6 1025.1 646.9 1023.5 C648.2 1021.9 649.4 1020.3 650.7 1018.8 C651.9 1017.2 653.2 1015.6 654.4 1014.0 C655.7 1012.4 656.9 1010.9 658.2 1009.3 C659.4 1007.8 660.7 1006.2 662.0 1004.7 C663.2 1003.2 664.5 1001.7 665.8 1000.2 C667.1 998.7 668.4 997.2 669.7 995.8 C671.0 994.3 672.3 992.9 673.6 991.4 C674.9 990.0 676.2 988.6 677.6 987.2 C678.9 985.8 680.3 984.4 681.7 983.0 C683.0 981.7 684.4 980.3 685.8 979.0 C687.2 977.6 688.6 976.3 690.0 974.9 C691.4 973.6 692.9 972.3 694.3 971.0 C695.7 969.7 697.2 968.4 698.7 967.1 C700.1 965.8 701.6 964.5 703.1 963.2 C704.6 961.9 706.2 960.7 707.7 959.4 C709.2 958.1 710.8 956.9 712.4 955.6 C713.9 954.3 715.5 953.1 717.1 951.8 C718.7 950.6 720.3 949.4 722.0 948.1 C723.6 946.9 725.3 945.7 727.0 944.4 C728.6 943.2 730.3 942.0 732.0 940.8 C733.7 939.6 735.4 938.5 737.2 937.3 C738.9 936.2 740.6 935.0 742.4 933.9 C744.2 932.8 745.9 931.7 747.7 930.6 C749.5 929.6 751.3 928.5 753.1 927.5 C754.9 926.5 756.7 925.5 758.5 924.6 C760.3 923.6 762.2 922.7 764.0 921.8 C765.9 920.9 767.7 920.1 769.6 919.3 C771.4 918.5 773.3 917.7 775.1 917.0 C777.0 916.2 778.9 915.5 780.8 914.9 C782.7 914.3 784.5 913.7 786.4 913.1 C788.3 912.6 790.2 912.1 792.1 911.7 C794.0 911.2 795.9 910.8 797.8 910.5 C799.7 910.2 801.6 909.9 803.5 909.7 C805.5 909.5 807.4 909.3 809.3 909.2 C811.2 909.1 813.1 909.1 815.0 909.2 C816.9 909.2 818.8 909.3 820.7 909.5 C822.6 909.7 824.5 909.9 826.4 910.2 C828.3 910.5 830.2 911.0 832.1 911.4 C834.0 911.9 835.9 912.4 837.8 913.0 C839.7 913.6 841.6 914.2 843.5 914.9 C845.4 915.5 847.3 916.3 849.2 917.0 C851.1 917.7 853.0 918.5 854.9 919.3 C856.8 920.0 858.7 920.8 860.6 921.6 C862.5 922.4 864.4 923.2 866.3 923.9 C868.2 924.7 870.1 925.4 872.0 926.2 C873.9 926.9 875.9 927.6 877.8 928.2 C879.7 928.9 881.7 929.5 883.6 930.1 C885.6 930.6 887.5 931.1 889.5 931.6 C891.4 932.0 893.4 932.4 895.4 932.7 C897.3 933.1 899.3 933.3 901.3 933.5 C903.2 933.7 905.2 933.8 907.1 933.9 C909.1 933.9 911.1 933.9 913.0 933.9 C915.0 933.8 916.9 933.6 918.8 933.4 C920.7 933.1 922.7 932.8 924.6 932.4 C926.4 932.0 928.3 931.6 930.2 931.0 C932.1 930.5 933.9 929.8 935.7 929.1 C937.6 928.4 939.4 927.6 941.2 926.8 C943.0 925.9 944.7 925.0 946.5 924.0 C948.2 923.1 949.9 922.0 951.7 920.9 C953.4 919.9 955.0 918.7 956.7 917.5 C958.4 916.4 960.0 915.1 961.6 913.9 C963.2 912.6 964.8 911.3 966.4 910.0 C967.9 908.7 969.4 907.3 970.9 905.9 C972.4 904.5 973.9 903.1 975.4 901.7 C976.8 900.3 978.2 898.8 979.6 897.4 C981.0 895.9 982.4 894.4 983.8 893.0 C985.1 891.5 986.5 890.0 987.8 888.5 C989.1 886.9 990.4 885.4 991.7 883.9 C993.0 882.4 994.3 880.8 995.5 879.3 C996.8 877.7 998.0 876.2 999.3 874.6 C1000.5 873.1 1001.8 871.5 1003.0 869.9 C1004.2 868.4 1005.5 866.8 1006.7 865.2 C1007.9 863.7 1009.1 862.1 1010.4 860.6 C1011.6 859.0 1012.8 857.4 1014.0 855.9 C1015.3 854.3 1016.5 852.8 1017.8 851.2 C1019.0 849.7 1020.3 848.2 1021.5 846.6 C1022.8 845.1 1024.1 843.6 1025.4 842.1 C1026.6 840.6 1027.9 839.1 1029.3 837.6 C1030.6 836.2 1031.9 834.7 1033.3 833.3 C1034.6 831.8 1036.0 830.4 1037.4 828.9 C1038.7 827.5 1040.1 826.1 1041.5 824.6 C1042.9 823.2 1044.3 821.8 1045.7 820.3 C1047.1 818.9 1048.5 817.5 1049.9 816.0 C1051.3 814.6 1052.6 813.2 1054.0 811.7 C1055.4 810.2 1056.8 808.8 1058.2 807.3 C1059.5 805.8 1060.9 804.3 1062.2 802.8 C1063.6 801.3 1064.9 799.7 1066.2 798.2 C1067.5 796.6 1068.9 795.1 1070.2 793.5 C1071.5 792.0 1072.9 790.5 1074.3 789.0 C1075.6 787.6 1077.0 786.1 1078.5 784.8 C1080.0 783.4 1081.5 782.1 1083.1 780.9 C1084.6 779.7 1086.3 778.6 1088.0 777.5 C1089.7 776.5 1091.5 775.6 1093.4 774.9 C1095.2 774.1 1097.2 773.4 1099.1 772.9 C1101.1 772.4 1103.1 772.1 1105.1 771.9 C1107.0 771.6 1109.1 771.6 1111.0 771.7 C1113.0 771.8 1114.9 772.1 1116.8 772.5 C1118.6 773.0 1120.5 773.6 1122.2 774.5 C1123.9 775.3 1125.6 776.4 1127.1 777.5 C1128.7 778.7 1130.2 780.1 1131.7 781.5 C1133.1 782.9 1134.5 784.5 1135.8 786.2 C1137.2 787.8 1138.4 789.5 1139.7 791.3 C1140.9 793.0 1142.1 794.8 1143.3 796.6 C1144.5 798.4 1145.7 800.2 1146.9 801.9 C1148.0 803.7 1149.2 805.4 1150.3 807.0 C1151.4 808.7 1152.5 810.3 1153.7 811.9 C1154.8 813.6 1155.9 815.1 1157.0 816.7 C1158.0 818.3 1159.1 819.9 1160.2 821.4 C1161.3 823.0 1162.3 824.6 1163.4 826.1 C1164.4 827.7 1165.5 829.3 1166.5 830.9 C1167.6 832.6 1168.6 834.2 1169.6 835.8 C1170.6 837.5 1171.6 839.1 1172.6 840.8 C1173.6 842.5 1174.6 844.2 1175.6 845.9 C1176.6 847.6 1177.5 849.3 1178.5 851.0 C1179.4 852.7 1180.4 854.4 1181.3 856.2 C1182.3 857.9 1183.2 859.7 1184.1 861.5 C1185.1 863.2 1186.0 865.0 1186.9 866.8 C1187.8 868.6 1188.7 870.4 1189.6 872.2 C1190.5 874.0 1191.4 875.8 1192.3 877.6 C1193.1 879.4 1194.0 881.3 1194.9 883.1 C1195.7 884.9 1196.6 886.8 1197.4 888.6 C1198.3 890.5 1199.1 892.3 1200.0 894.2 C1200.8 896.0 1201.6 897.9 1202.4 899.8 C1203.3 901.6 1204.1 903.5 1204.9 905.4 C1205.7 907.2 1206.5 909.1 1207.3 911.0 C1208.0 912.9 1208.8 914.8 1209.6 916.6 C1210.4 918.5 1211.1 920.4 1211.9 922.3 C1212.7 924.2 1213.4 926.1 1214.2 927.9 C1214.9 929.8 1215.7 931.7 1216.4 933.6 C1217.1 935.5 1217.9 937.4 1218.6 939.2 C1219.3 941.1 1220.0 943.0 1220.7 944.9 C1221.5 946.8 1222.2 948.7 1222.9 950.6 C1223.6 952.4 1224.3 954.3 1225.0 956.2 C1225.7 958.1 1226.3 960.0 1227.0 961.9 C1227.7 963.7 1228.4 965.6 1229.1 967.5 C1229.8 969.4 1230.4 971.3 1231.1 973.2 C1231.8 975.0 1232.4 976.9 1233.1 978.8 C1233.8 980.7 1234.4 982.6 1235.1 984.5 C1235.7 986.3 1236.4 988.2 1237.0 990.1 C1237.7 992.0 1238.3 993.9 1239.0 995.7 C1239.6 997.6 1240.3 999.5 1240.9 1001.4 C1241.6 1003.3 1242.2 1005.1 1242.9 1007.0 C1243.5 1008.9 1244.2 1010.8 1244.8 1012.7 C1245.4 1014.5 1246.1 1016.4 1246.7 1018.3 C1247.4 1020.2 1248.0 1022.1 1248.6 1023.9 C1249.3 1025.8 1249.9 1027.7 1250.5 1029.6 C1251.2 1031.4 1251.8 1033.3 1252.5 1035.2 C1253.1 1037.1 1253.7 1038.9 1254.4 1040.8 C1255.0 1042.7 1255.7 1044.5 1256.3 1046.4 C1257.0 1048.3 1257.6 1050.2 1258.2 1052.0 C1258.9 1053.9 1259.5 1055.8 1260.2 1057.6 C1260.8 1059.5 1261.5 1061.4 1262.2 1063.3 C1262.8 1065.1 1263.5 1067.0 1264.1 1068.9 C1264.8 1070.7 1265.5 1072.6 1266.1 1074.4 C1266.8 1076.3 1267.5 1078.2 1268.1 1080.0 C1268.8 1081.9 1269.5 1083.8 1270.2 1085.6 C1270.8 1087.5 1271.5 1089.3 1272.2 1091.2 C1272.9 1093.1 1273.6 1094.9 1274.3 1096.8 C1275.0 1098.6 1275.7 1100.5 1276.4 1102.3 C1277.1 1104.2 1277.8 1106.1 1278.6 1107.9 C1279.3 1109.8 1280.0 1111.6 1280.7 1113.5 C1281.5 1115.3 1282.2 1117.2 1282.9 1119.0 C1283.7 1120.9 1284.4 1122.7 1285.2 1124.5 C1286.0 1126.4 1286.7 1128.2 1287.5 1130.1 C1288.3 1131.9 1289.0 1133.8 1289.8 1135.6 C1290.6 1137.5 1291.4 1139.3 1292.2 1141.1 C1293.0 1143.0 1293.8 1144.8 1294.6 1146.6 C1295.4 1148.5 1296.2 1150.3 1297.0 1152.1 C1297.9 1154.0 1298.7 1155.8 1299.5 1157.6 C1300.4 1159.5 1301.2 1161.3 1302.1 1163.1 C1302.9 1165.0 1303.8 1166.8 1304.6 1168.6 C1305.5 1170.4 1306.3 1172.3 1307.2 1174.1 C1308.1 1175.9 1308.9 1177.7 1309.8 1179.5 C1310.7 1181.4 1311.6 1183.2 1312.5 1185.0 C1313.4 1186.8 1314.2 1188.6 1315.1 1190.4 C1316.0 1192.2 1316.9 1194.1 1317.8 1195.9 C1318.7 1197.7 1319.6 1199.5 1320.6 1201.3 C1321.5 1203.1 1322.4 1204.9 1323.3 1206.7 C1324.2 1208.5 1325.1 1210.3 1326.1 1212.1 C1327.0 1213.9 1327.9 1215.7 1328.8 1217.5 C1329.8 1219.3 1330.7 1221.1 1331.6 1222.9 C1332.5 1224.7 1333.5 1226.5 1334.4 1228.2 C1335.4 1230.0 1336.3 1231.8 1337.2 1233.6 C1338.2 1235.4 1339.1 1237.2 1340.0 1238.9 C1341.0 1240.7 1341.9 1242.5 1342.9 1244.3 C1343.8 1246.1 1344.8 1247.8 1345.7 1249.6 C1346.6 1251.4 1347.6 1253.2 1348.5 1254.9 C1349.5 1256.7 1350.4 1258.5 1351.4 1260.2 C1352.3 1262.0 1353.3 1263.7 1354.2 1265.5 C1355.2 1267.3 1356.1 1269.0 1357.1 1270.8 C1358.0 1272.5 1359.0 1274.3 1360.0 1276.0 C1360.9 1277.8 1361.9 1279.5 1362.8 1281.3 C1363.8 1283.0 1364.8 1284.8 1365.7 1286.5 C1366.7 1288.2 1367.7 1290.0 1368.7 1291.7 C1369.6 1293.4 1370.6 1295.2 1371.6 1296.9 C1372.6 1298.6 1373.6 1300.3 1374.5 1302.1 C1375.5 1303.8 1376.5 1305.5 1377.5 1307.2 C1378.5 1308.9 1379.5 1310.6 1380.5 1312.4 C1381.5 1314.1 1382.5 1315.8 1383.6 1317.5 C1384.6 1319.2 1385.6 1320.9 1386.6 1322.6 C1387.6 1324.3 1388.7 1325.9 1389.7 1327.6 C1390.7 1329.3 1391.8 1331.0 1392.8 1332.7 C1393.9 1334.4 1394.9 1336.0 1396.0 1337.7 C1397.0 1339.4 1398.1 1341.1 1399.2 1342.7 C1400.2 1344.4 1401.3 1346.0 1402.4 1347.7 C1403.5 1349.4 1404.6 1351.0 1405.7 1352.7 C1406.8 1354.3 1407.9 1355.9 1409.0 1357.6 C1410.1 1359.2 1411.2 1360.9 1412.3 1362.5 C1413.5 1364.1 1414.6 1365.7 1415.7 1367.4 C1416.9 1369.0 1418.0 1370.6 1419.2 1372.2 C1420.3 1373.8 1421.5 1375.4 1422.7 1377.0 C1423.9 1378.6 1425.0 1380.2 1426.2 1381.8 C1427.4 1383.4 1428.6 1385.0 1429.8 1386.6 C1431.1 1388.2 1432.3 1389.8 1433.5 1391.3 C1434.7 1392.9 1436.0 1394.5 1437.2 1396.0 C1438.5 1397.6 1439.7 1399.2 1441.0 1400.7 C1442.3 1402.3 1443.5 1403.8 1444.8 1405.3 C1446.1 1406.9 1447.4 1408.4 1448.7 1410.0 C1450.0 1411.5 1451.4 1413.0 1452.7 1414.5 C1454.0 1416.0 1455.4 1417.6 1456.7 1419.1 C1458.1 1420.6 1459.4 1422.1 1460.8 1423.5 C1462.2 1425.0 1463.6 1426.5 1465.0 1428.0 C1466.4 1429.4 1467.8 1430.9 1469.2 1432.3 C1470.6 1433.8 1472.1 1435.2 1473.5 1436.6 C1475.0 1438.1 1476.4 1439.5 1477.9 1440.9 C1479.4 1442.3 1480.8 1443.6 1482.3 1445.0 C1483.8 1446.4 1485.3 1447.7 1486.8 1449.0 C1488.3 1450.4 1489.9 1451.7 1491.4 1453.0 C1493.0 1454.3 1494.5 1455.6 1496.1 1456.8 C1497.6 1458.1 1499.2 1459.4 1500.8 1460.6 C1502.4 1461.8 1504.0 1463.0 1505.6 1464.2 C1507.2 1465.4 1508.8 1466.6 1510.5 1467.7 C1512.1 1468.9 1513.7 1470.0 1515.4 1471.1 C1517.1 1472.2 1518.7 1473.3 1520.4 1474.3 C1522.1 1475.4 1523.8 1476.4 1525.5 1477.4 C1527.2 1478.4 1528.9 1479.4 1530.7 1480.3 C1532.4 1481.3 1534.2 1482.2 1535.9 1483.1 C1537.7 1484.0 1539.5 1484.9 1541.3 1485.7 C1543.0 1486.5 1544.8 1487.4 1546.7 1488.1 C1548.5 1488.9 1551.0 1489.9 1552.1 1490.4 C1553.3 1490.9 1553.4 1490.9 1553.7 1491.0 Z" fill="url(#sp)"/>
<!-- other lamp -->
<path d="M308.5 1490.5 C309.8 1490.1 313.1 1490.3 316.2 1488.2 C319.3 1486.1 324.2 1481.4 327.4 1478.1 C330.6 1474.8 332.6 1472.6 335.2 1468.1 C337.8 1463.6 340.4 1456.5 343.0 1451.3 C345.6 1446.1 348.2 1442.6 350.8 1436.8 C353.4 1431.0 356.1 1424.5 358.7 1416.7 C361.3 1408.9 364.1 1398.7 366.5 1389.9 C368.9 1381.2 371.0 1373.5 373.2 1364.2 C375.4 1354.9 378.0 1342.8 379.9 1334.1 C381.8 1325.4 383.0 1318.3 384.3 1311.8 C385.6 1305.3 386.5 1302.0 387.7 1295.0 C388.9 1288.0 389.8 1283.3 391.4 1270.0 C393.0 1256.7 395.7 1231.8 397.5 1215.2 C399.3 1198.6 400.5 1185.0 402.0 1170.5 C403.5 1156.0 405.4 1138.3 406.5 1128.1 C407.6 1117.9 408.1 1114.1 408.7 1109.1 C409.3 1104.1 409.4 1106.0 410.2 1098.0 C411.0 1090.0 412.5 1072.0 413.6 1060.8 C414.7 1049.6 415.4 1041.4 416.6 1030.7 C417.8 1020.0 419.1 1007.6 420.6 996.5 C422.1 985.4 423.9 974.3 425.6 964.3 C427.3 954.2 429.2 943.2 430.7 936.2 C432.2 929.2 434.0 924.5 434.7 922.1 M447.7 921.1 C448.4 925.0 450.6 936.0 451.8 944.2 C453.0 952.4 454.0 961.0 454.8 970.4 C455.6 979.8 456.1 988.8 456.8 1000.5 C457.5 1012.2 458.1 1029.0 458.8 1040.7 C459.5 1052.4 460.1 1061.4 460.8 1070.9 C461.5 1080.5 461.8 1086.0 462.8 1098.0 C463.8 1110.0 465.6 1129.6 466.8 1142.6 C468.0 1155.6 469.0 1166.8 470.1 1176.1 C471.2 1185.4 472.4 1191.9 473.5 1198.4 C474.6 1204.9 475.7 1209.6 476.8 1215.2 C477.9 1220.8 478.7 1226.0 480.2 1231.9 C481.7 1237.9 483.9 1244.6 485.8 1250.9 C487.7 1257.2 488.1 1264.0 491.3 1270.0 C494.5 1276.0 500.7 1283.6 504.9 1287.1 C509.1 1290.6 512.0 1293.6 516.6 1291.0 C521.2 1288.4 526.3 1283.8 532.2 1271.4 C538.1 1259.0 545.9 1235.6 551.8 1216.7 C557.7 1197.8 563.5 1172.5 567.4 1158.1 C571.3 1143.6 572.9 1137.0 575.0 1130.0 C577.1 1123.0 578.3 1121.0 580.3 1116.1 C582.3 1111.2 585.0 1104.0 587.0 1100.5 C589.0 1097.0 590.7 1096.2 592.6 1094.9 C594.5 1093.6 596.5 1092.5 598.5 1092.5 C600.5 1092.5 602.2 1092.8 604.9 1094.9 C607.6 1097.0 611.4 1101.3 614.9 1105.0 C618.4 1108.7 622.6 1111.7 626.1 1117.3 C629.6 1122.9 632.8 1132.0 636.1 1138.5 C639.5 1145.0 643.2 1151.8 646.2 1156.3 C649.2 1160.8 650.0 1162.8 654.0 1165.3 C658.0 1167.8 663.9 1170.2 670.0 1171.5 C676.1 1172.8 683.9 1173.9 690.5 1172.9 C697.1 1171.9 703.1 1167.8 709.8 1165.3 C716.5 1162.8 721.4 1159.9 730.7 1157.8 C740.1 1155.7 753.8 1152.8 765.9 1152.8 C778.0 1152.8 792.7 1155.1 803.6 1157.8 C814.5 1160.5 822.4 1164.7 831.2 1169.1 C840.0 1173.5 849.2 1180.2 856.3 1184.2 C863.4 1188.2 868.0 1190.7 873.9 1193.0 C879.8 1195.3 884.4 1197.2 891.5 1198.0 C898.6 1198.8 908.2 1200.3 916.6 1198.0 C925.0 1195.7 933.4 1190.3 941.8 1184.2 C950.2 1178.1 958.5 1168.1 966.9 1161.6 C975.3 1155.1 984.5 1148.9 992.0 1145.2 C999.5 1141.5 1005.7 1139.4 1012.1 1139.5 C1018.5 1139.6 1023.1 1141.6 1030.3 1145.7 C1037.5 1149.8 1044.6 1154.1 1055.4 1164.0 C1066.2 1173.9 1082.2 1187.8 1095.4 1205.0 C1108.6 1222.2 1121.5 1248.7 1134.5 1267.5 C1147.5 1286.3 1162.7 1305.6 1173.6 1318.0 C1184.5 1330.4 1188.2 1330.5 1200.0 1342.0 C1211.8 1353.5 1229.8 1374.0 1244.7 1386.7 C1259.6 1399.4 1274.4 1409.1 1289.3 1418.0 C1304.2 1426.9 1320.5 1434.3 1334.0 1440.3 C1347.5 1446.3 1360.3 1450.4 1370.0 1454.1 C1379.7 1457.8 1384.8 1459.7 1392.3 1462.5 C1399.8 1465.3 1407.2 1468.4 1414.7 1470.9 C1422.2 1473.4 1429.6 1475.6 1437.0 1477.6 C1444.4 1479.5 1451.8 1481.2 1459.3 1482.6 C1466.8 1484.0 1474.2 1484.9 1481.7 1485.9 C1489.2 1486.9 1496.6 1488.1 1504.0 1488.7 C1511.4 1489.3 1518.8 1489.5 1526.3 1489.8 C1533.8 1490.1 1545.0 1490.3 1548.7 1490.4" fill="none" stroke="#ffffff" stroke-opacity="0.7" stroke-width="0.75" stroke-dasharray="2 2.7" clip-path="url(#spc)"/>
<circle cx="442.3" cy="906.4" r="13.9" fill="none" stroke="#c9c6c6" stroke-width="0.8"/>
<circle cx="442.3" cy="906.4" r="7.5" fill="#c4bfbf"/>
<!-- our marker -->
<circle cx="1105" cy="771.4" r="18.5" fill="none" stroke="#a67c52" stroke-width="4.7"/>
<circle cx="1105" cy="771.4" r="9.9" fill="#a67c52"/>
<!-- color bar -->
<rect x="306.75" y="1515" width="7.10" height="25.8" fill="#29166f"/>
<rect x="319.27" y="1515" width="7.10" height="25.8" fill="#291a70"/>
<rect x="331.80" y="1515" width="7.10" height="25.8" fill="#2a1f72"/>
<rect x="344.32" y="1515" width="7.10" height="25.8" fill="#2a2373"/>
<rect x="356.85" y="1515" width="7.10" height="25.8" fill="#2b2774"/>
<rect x="369.38" y="1515" width="7.10" height="25.8" fill="#2b2b75"/>
<rect x="381.90" y="1515" width="7.10" height="25.8" fill="#2c3077"/>
<rect x="394.43" y="1515" width="7.10" height="25.8" fill="#2c3478"/>
<rect x="406.95" y="1515" width="7.10" height="25.8" fill="#2d3879"/>
<rect x="419.48" y="1515" width="7.10" height="25.8" fill="#2d3d7a"/>
<rect x="432.00" y="1515" width="7.10" height="25.8" fill="#2e417c"/>
<rect x="444.52" y="1515" width="7.10" height="25.8" fill="#2e457d"/>
<rect x="457.05" y="1515" width="7.10" height="25.8" fill="#2f497e"/>
<rect x="469.58" y="1515" width="7.10" height="25.8" fill="#2f4e7f"/>
<rect x="482.10" y="1515" width="7.10" height="25.8" fill="#305281"/>
<rect x="494.62" y="1515" width="7.10" height="25.8" fill="#305682"/>
<rect x="507.15" y="1515" width="7.10" height="25.8" fill="#315b83"/>
<rect x="519.67" y="1515" width="7.10" height="25.8" fill="#315f84"/>
<rect x="532.20" y="1515" width="7.10" height="25.8" fill="#326386"/>
<rect x="544.73" y="1515" width="7.10" height="25.8" fill="#326787"/>
<rect x="557.25" y="1515" width="7.10" height="25.8" fill="#336c88"/>
<rect x="569.78" y="1515" width="7.10" height="25.8" fill="#337089"/>
<rect x="582.30" y="1515" width="7.10" height="25.8" fill="#34748b"/>
<rect x="594.83" y="1515" width="7.10" height="25.8" fill="#34798c"/>
<rect x="607.35" y="1515" width="7.10" height="25.8" fill="#357d8d"/>
<rect x="619.88" y="1515" width="7.10" height="25.8" fill="#37818d"/>
<rect x="632.40" y="1515" width="7.10" height="25.8" fill="#3d8488"/>
<rect x="644.92" y="1515" width="7.10" height="25.8" fill="#448782"/>
<rect x="657.45" y="1515" width="7.10" height="25.8" fill="#4b897d"/>
<rect x="669.98" y="1515" width="7.10" height="25.8" fill="#518c78"/>
<rect x="682.50" y="1515" width="7.10" height="25.8" fill="#588f73"/>
<rect x="695.03" y="1515" width="7.10" height="25.8" fill="#5f926e"/>
<rect x="707.55" y="1515" width="7.10" height="25.8" fill="#659569"/>
<rect x="720.08" y="1515" width="7.10" height="25.8" fill="#6c9863"/>
<rect x="732.60" y="1515" width="7.10" height="25.8" fill="#739b5e"/>
<rect x="745.12" y="1515" width="7.10" height="25.8" fill="#799e59"/>
<rect x="757.65" y="1515" width="7.10" height="25.8" fill="#80a154"/>
<rect x="770.17" y="1515" width="7.10" height="25.8" fill="#87a44f"/>
<rect x="782.70" y="1515" width="7.10" height="25.8" fill="#8da749"/>
<rect x="795.23" y="1515" width="7.10" height="25.8" fill="#94a944"/>
<rect x="807.75" y="1515" width="7.10" height="25.8" fill="#9bac3f"/>
<rect x="820.27" y="1515" width="7.10" height="25.8" fill="#a1af3a"/>
<rect x="832.80" y="1515" width="7.10" height="25.8" fill="#a8b235"/>
<rect x="845.33" y="1515" width="7.10" height="25.8" fill="#afb530"/>
<rect x="857.85" y="1515" width="7.10" height="25.8" fill="#b5b82a"/>
<rect x="870.38" y="1515" width="7.10" height="25.8" fill="#bcbb25"/>
<rect x="882.90" y="1515" width="7.10" height="25.8" fill="#c3be20"/>
<rect x="895.43" y="1515" width="7.10" height="25.8" fill="#c9c11b"/>
<rect x="907.95" y="1515" width="7.10" height="25.8" fill="#d0c416"/>
<rect x="920.48" y="1515" width="7.10" height="25.8" fill="#d7c711"/>
<rect x="933.00" y="1515" width="7.10" height="25.8" fill="#dac60e"/>
<rect x="945.52" y="1515" width="7.10" height="25.8" fill="#dac20e"/>
<rect x="958.05" y="1515" width="7.10" height="25.8" fill="#dbbe0d"/>
<rect x="970.58" y="1515" width="7.10" height="25.8" fill="#dbba0d"/>
<rect x="983.10" y="1515" width="7.10" height="25.8" fill="#dbb60d"/>
<rect x="995.62" y="1515" width="7.10" height="25.8" fill="#dcb20c"/>
<rect x="1008.15" y="1515" width="7.10" height="25.8" fill="#dcae0c"/>
<rect x="1020.68" y="1515" width="7.10" height="25.8" fill="#dcaa0c"/>
<rect x="1033.20" y="1515" width="7.10" height="25.8" fill="#dda60b"/>
<rect x="1045.72" y="1515" width="7.10" height="25.8" fill="#dda20b"/>
<rect x="1058.25" y="1515" width="7.10" height="25.8" fill="#dd9e0b"/>
<rect x="1070.78" y="1515" width="7.10" height="25.8" fill="#dd9a0b"/>
<rect x="1083.30" y="1515" width="7.10" height="25.8" fill="#de950a"/>
<rect x="1095.83" y="1515" width="7.10" height="25.8" fill="#de910a"/>
<rect x="1108.35" y="1515" width="7.10" height="25.8" fill="#de8d0a"/>
<rect x="1120.88" y="1515" width="7.10" height="25.8" fill="#df8909"/>
<rect x="1133.40" y="1515" width="7.10" height="25.8" fill="#df8509"/>
<rect x="1145.93" y="1515" width="7.10" height="25.8" fill="#df8109"/>
<rect x="1158.45" y="1515" width="7.10" height="25.8" fill="#e07d08"/>
<rect x="1170.97" y="1515" width="7.10" height="25.8" fill="#e07908"/>
<rect x="1183.50" y="1515" width="7.10" height="25.8" fill="#e07408"/>
<rect x="1196.03" y="1515" width="7.10" height="25.8" fill="#e06f08"/>
<rect x="1208.55" y="1515" width="7.10" height="25.8" fill="#e06a08"/>
<rect x="1221.08" y="1515" width="7.10" height="25.8" fill="#df6408"/>
<rect x="1233.60" y="1515" width="7.10" height="25.8" fill="#df5f08"/>
<rect x="1246.12" y="1515" width="7.10" height="25.8" fill="#df5908"/>
<rect x="1258.65" y="1515" width="7.10" height="25.8" fill="#df5408"/>
<rect x="1271.18" y="1515" width="7.10" height="25.8" fill="#df4f08"/>
<rect x="1283.70" y="1515" width="7.10" height="25.8" fill="#df4908"/>
<rect x="1296.22" y="1515" width="7.10" height="25.8" fill="#df4408"/>
<rect x="1308.75" y="1515" width="7.10" height="25.8" fill="#de3f08"/>
<rect x="1321.28" y="1515" width="7.10" height="25.8" fill="#de3908"/>
<rect x="1333.80" y="1515" width="7.10" height="25.8" fill="#de3408"/>
<rect x="1346.33" y="1515" width="7.10" height="25.8" fill="#de2f08"/>
<rect x="1358.85" y="1515" width="7.10" height="25.8" fill="#de2908"/>
<rect x="1371.38" y="1515" width="7.10" height="25.8" fill="#de2408"/>
<rect x="1383.90" y="1515" width="7.10" height="25.8" fill="#dd1f08"/>
<rect x="1396.42" y="1515" width="7.10" height="25.8" fill="#dd1908"/>
<rect x="1408.95" y="1515" width="7.10" height="25.8" fill="#dd1408"/>
<rect x="1421.48" y="1515" width="7.10" height="25.8" fill="#dd0f08"/>
<rect x="1434.00" y="1515" width="7.10" height="25.8" fill="#dd0d08"/>
<rect x="1446.53" y="1515" width="7.10" height="25.8" fill="#dc0b08"/>
<rect x="1459.05" y="1515" width="7.10" height="25.8" fill="#dc0a08"/>
<rect x="1471.58" y="1515" width="7.10" height="25.8" fill="#db0808"/>
<rect x="1484.10" y="1515" width="7.10" height="25.8" fill="#db0708"/>
<rect x="1496.62" y="1515" width="7.10" height="25.8" fill="#da0608"/>
<rect x="1509.15" y="1515" width="7.10" height="25.8" fill="#da0408"/>
<rect x="1521.67" y="1515" width="7.10" height="25.8" fill="#d90308"/>
<rect x="1534.20" y="1515" width="7.10" height="25.8" fill="#d90108"/>
<rect x="1546.73" y="1515" width="7.10" height="25.8" fill="#d80008"/>
<!-- text -->
<text x="415.9" y="216.2" class="t1" font-size="99.25" id="t_l1">Mimics natural light</text>
<text x="436" y="372.9" class="t1" font-size="98.5" id="t_with">with</text>
<text x="655.4" y="373.3" class="big" id="t_zero">"0"</text>
<text x="927.3" y="372.9" class="t1" font-size="99.2" id="t_add">additives</text>
<text x="569.3" y="494.8" class="sub" id="t_s1">No red light components added</text>
<text x="637.6" y="563.1" class="sub" id="t_s2">No potential safety risks,</text>
<text x="1190.3" y="638.6" font-size="40" fill="#000" id="t_unit">1.0=159.970mW/nm</text>
<text x="222.6" y="708.6" font-size="50.7" fill="#000" id="t_spec">Spectrum</text>
<text x="242.7" y="779.6" class="ax" letter-spacing="1.9">1.0</text>
<text x="242.7" y="851.6" class="ax" letter-spacing="1.9">0.9</text>
<text x="242.7" y="923.6" class="ax" letter-spacing="1.9">0.8</text>
<text x="242.7" y="995.6" class="ax" letter-spacing="1.9">0.7</text>
<text x="242.7" y="1067.6" class="ax" letter-spacing="1.9">0.6</text>
<text x="242.7" y="1139.6" class="ax" letter-spacing="1.9">0.5</text>
<text x="242.7" y="1211.6" class="ax" letter-spacing="1.9">0.4</text>
<text x="242.7" y="1283.6" class="ax" letter-spacing="1.9">0.3</text>
<text x="242.7" y="1355.6" class="ax" letter-spacing="1.9">0.2</text>
<text x="242.7" y="1427.6" class="ax" letter-spacing="1.9">0.1</text>
<text x="242.7" y="1499.6" class="ax" letter-spacing="1.9">0.0</text>
<text x="300.9" y="1579.0" class="ax" letter-spacing="1.4">350</text>
<text x="420.0" y="1579.0" class="ax" letter-spacing="1.4">400</text>
<text x="539.0" y="1579.0" class="ax" letter-spacing="1.4">450</text>
<text x="658.1" y="1579.0" class="ax" letter-spacing="1.4">500</text>
<text x="777.2" y="1579.0" class="ax" letter-spacing="1.4">550</text>
<text x="896.2" y="1579.0" class="ax" letter-spacing="1.4">600</text>
<text x="1015.3" y="1579.0" class="ax" letter-spacing="1.4">650</text>
<text x="1134.4" y="1579.0" class="ax" letter-spacing="1.4">700</text>
<text x="1253.5" y="1579.0" class="ax" letter-spacing="1.4">750</text>
<text x="1372.5" y="1579.0" class="ax" letter-spacing="1.4">800</text>
<text x="1491.6" y="1579.0" class="ax" letter-spacing="1.4">850</text>
<text x="1175.9" y="1652.5" font-size="50.65" fill="#000" id="t_wl">Wavelength (nm)</text>
<text x="442.4" y="850.7" text-anchor="middle" font-size="27.8" fill="#8f8f8f" id="t_o1">Other lamp</text>
<text x="442.7" y="875.3" text-anchor="middle" font-size="27.8" fill="#8f8f8f" id="t_o2">Spectrum</text>
<text x="1007.4" y="735.6" font-size="27.7" fill="#a67c52" id="t_our">OUR Spectrum</text>
<text x="1418.9" y="756.5" font-size="27.76" fill="url(#solt)" id="t_sol1">Solar</text>
<text x="1418.9" y="784.2" font-size="27.76" fill="url(#solt)" id="t_sol2">Spectrum</text>
</svg>
</body></html>
